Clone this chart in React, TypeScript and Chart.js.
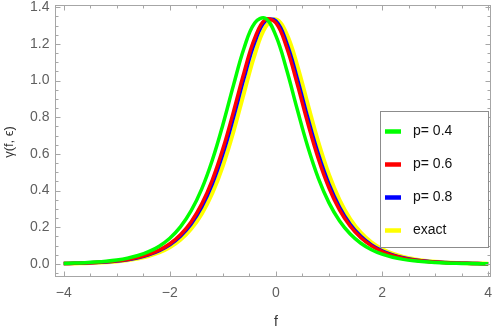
import React, { useEffect, useRef } from "react";
import { Chart, registerables } from "chart.js";

Chart.register(...registerables);

const fValues = [
  -4, -3.8, -3.6, -3.4, -3.2, -3, -2.8, -2.6, -2.4, -2.2, -2, -1.8, -1.6, -1.4,
  -1.2, -1, -0.8, -0.6, -0.4, -0.2, 0, 0.2, 0.4, 0.6, 0.8, 1, 1.2, 1.4, 1.6,
  1.8, 2, 2.2, 2.4, 2.6, 2.8, 3, 3.2, 3.4, 3.6, 3.8, 4,
];

const gammaP04 = [
  0.0033, 0.0048, 0.007, 0.0103, 0.015, 0.0218, 0.0317, 0.0461, 0.067, 0.0972,
  0.1407, 0.2026, 0.2894, 0.4082, 0.5658, 0.7595, 0.9751, 1.1777, 1.3143,
  1.3393, 1.2433, 1.0603, 0.8447, 0.6394, 0.4671, 0.3333, 0.2343, 0.1632,
  0.113, 0.0779, 0.0536, 0.0369, 0.0253, 0.0174, 0.0119, 0.0082, 0.0056,
  0.0039, 0.0026, 0.0018, 0.0012,
];

const gammaP06 = [
  0.0026, 0.0038, 0.0055, 0.008, 0.0117, 0.017, 0.0248, 0.0361, 0.0525,
  0.0761, 0.1104, 0.1595, 0.2291, 0.3264, 0.4578, 0.6276, 0.8308, 1.0459,
  1.2312, 1.3322, 1.3136, 1.1814, 0.9823, 0.7672, 0.5727, 0.4141, 0.2937,
  0.2057, 0.1428, 0.0989, 0.0682, 0.0469, 0.0322, 0.0221, 0.0152, 0.0104,
  0.0072, 0.0049, 0.0034, 0.0023, 0.0016,
];

const gammaP08 = [
  0.0024, 0.0036, 0.0052, 0.0076, 0.011, 0.016, 0.0234, 0.034, 0.0495, 0.072,
  0.1044, 0.1509, 0.217, 0.3094, 0.4353, 0.5993, 0.7986, 1.0146, 1.2076,
  1.3243, 1.3243, 1.2076, 1.0146, 0.7986, 0.5993, 0.4353, 0.3094, 0.217,
  0.1509, 0.1044, 0.072, 0.0495, 0.034, 0.0234, 0.016, 0.011, 0.0076, 0.0052,
  0.0036, 0.0024, 0.0017,
];

const gammaExact = [
  0.0021, 0.0031, 0.0045, 0.0066, 0.0096, 0.014, 0.0204, 0.0297, 0.0433,
  0.063, 0.0914, 0.1324, 0.1909, 0.2732, 0.3855, 0.5354, 0.7227, 0.9355,
  1.1415, 1.2903, 1.3336, 1.2552, 1.0834, 0.8706, 0.6631, 0.4864, 0.348,
  0.245, 0.1708, 0.1183, 0.0817, 0.0562, 0.0386, 0.0266, 0.0182, 0.0125,
  0.0086, 0.0059, 0.004, 0.0028, 0.0019,
];

const seriesLabels = ["p= 0.4", "p= 0.6", "p= 0.8", "exact"];
const seriesColors = ["#00ff00", "#ff0000", "#0000ff", "#ffff00"];

const xTickValues = [-4, -2, 0, 2, 4];
const xTickLabels = ["\u22124", "\u22122", "0", "2", "4"];
const xMinorTicks = [-4, -3.5, -3, -2.5, -2, -1.5, -1, -0.5, 0, 0.5, 1, 1.5, 2, 2.5, 3, 3.5, 4];

const yTickValues = [0, 0.2, 0.4, 0.6, 0.8, 1.0, 1.2, 1.4];
const yTickLabels = ["0.0", "0.2", "0.4", "0.6", "0.8", "1.0", "1.2", "1.4"];
const yMinorTicks = [
  -0.05, 0, 0.05, 0.1, 0.15, 0.2, 0.25, 0.3, 0.35, 0.4, 0.45, 0.5, 0.55, 0.6,
  0.65, 0.7, 0.75, 0.8, 0.85, 0.9, 0.95, 1.0, 1.05, 1.1, 1.15, 1.2, 1.25, 1.3,
  1.35, 1.4,
];

const FONT = '"Liberation Sans", Arial, sans-serif';

export default function App() {
  const ref = useRef<HTMLCanvasElement>(null);

  useEffect(() => {
    const canvas = ref.current;
    if (!canvas) return;
    const seriesValues = [gammaP04, gammaP06, gammaP08, gammaExact];

    const framePlugin = {
      id: "mmaFrame",
      afterDraw(chart: any) {
        const ctx = chart.ctx as CanvasRenderingContext2D;
        const a = chart.chartArea;
        const xs = chart.scales.x;
        const ys = chart.scales.y;
        const L = Math.round(a.left) + 0.5;
        const R = Math.round(a.right) - 0.5;
        const T = Math.round(a.top) + 0.5;
        const B = Math.round(a.bottom) - 0.5;
        ctx.save();
        ctx.strokeStyle = "#a6a6a6";
        ctx.lineWidth = 1;
        ctx.strokeRect(L, T, R - L, B - T);
        ctx.beginPath();
        xMinorTicks.forEach((v) => {
          const px = Math.round(xs.getPixelForValue(v)) + 0.5;
          const len = xTickValues.includes(v) ? 5 : 3;
          ctx.moveTo(px, B);
          ctx.lineTo(px, B - len);
          ctx.moveTo(px, T);
          ctx.lineTo(px, T + len);
        });
        yMinorTicks.forEach((v) => {
          const py = Math.round(ys.getPixelForValue(v)) + 0.5;
          const major = yTickValues.some((t) => Math.abs(t - v) < 1e-9);
          const len = major ? 5 : 3;
          ctx.moveTo(L, py);
          ctx.lineTo(L + len, py);
          ctx.moveTo(R, py);
          ctx.lineTo(R - len, py);
        });
        ctx.stroke();

        ctx.fillStyle = "#5f5f5f";
        ctx.font = `14px ${FONT}`;
        ctx.textAlign = "center";
        ctx.textBaseline = "middle";
        xTickValues.forEach((v, i) => {
          ctx.fillText(xTickLabels[i], xs.getPixelForValue(v), 293);
        });
        ctx.textAlign = "right";
        yTickValues.forEach((v, i) => {
          ctx.fillText(yTickLabels[i], 49.5, ys.getPixelForValue(v));
        });

        ctx.fillStyle = "#333333";
        ctx.textAlign = "center";
        ctx.fillText("f", xs.getPixelForValue(0), 322);
        ctx.save();
        ctx.translate(9, 142);
        ctx.rotate(-Math.PI / 2);
        ctx.font = `13px ${FONT}`;
        ctx.fillText("\u03b3(f, \u03f5)", 0, 0);
        ctx.restore();

        // legend
        const lx = 380.5, ly = 111.5, lw = 108, lh = 136;
        ctx.fillStyle = "#ffffff";
        ctx.fillRect(lx, ly, lw, lh);
        ctx.strokeStyle = "#8c8c8c";
        ctx.lineWidth = 1;
        ctx.strokeRect(lx, ly, lw, lh);
        chart.data.datasets.forEach((ds: any, i: number) => {
          const cy = 131.5 + i * 33;
          ctx.strokeStyle = ds.borderColor;
          ctx.lineWidth = 4.5;
          ctx.beginPath();
          ctx.moveTo(385, cy);
          ctx.lineTo(401, cy);
          ctx.stroke();
          ctx.fillStyle = "#111111";
          ctx.font = `14px ${FONT}`;
          ctx.textAlign = "left";
          ctx.textBaseline = "middle";
          ctx.fillText(ds.label, 413, cy);
        });
        ctx.restore();
      },
    };

    const chart = new Chart(canvas, {
      type: "line",
      data: {
        datasets: seriesLabels.map((label, si) => ({
          label,
          data: fValues.map((x, i) => ({ x, y: seriesValues[si][i] })),
          borderColor: seriesColors[si],
          backgroundColor: seriesColors[si],
          borderWidth: si === 3 ? 4 : 3.5,
          pointRadius: 0,
          tension: 0.4,
          fill: false,
        })),
      },
      options: {
        responsive: false,
        animation: false,
        devicePixelRatio: 1,
        layout: { padding: { left: 55, right: 7, top: 5, bottom: 53 } },
        scales: {
          x: { type: "linear", display: false, min: -4.164, max: 4.053 },
          y: { type: "linear", display: false, min: -0.0709, max: 1.412 },
        },
        plugins: {
          legend: { display: false },
          tooltip: { enabled: false },
        },
      },
      plugins: [framePlugin],
    });
    return () => chart.destroy();
  }, []);

  return (
    <div
      style={{
        position: "fixed",
        left: 0,
        top: 0,
        width: 498,
        height: 330,
        background: "#ffffff",
      }}
    >
      <canvas ref={ref} width={498} height={330} style={{ display: "block" }} />
    </div>
  );
}
